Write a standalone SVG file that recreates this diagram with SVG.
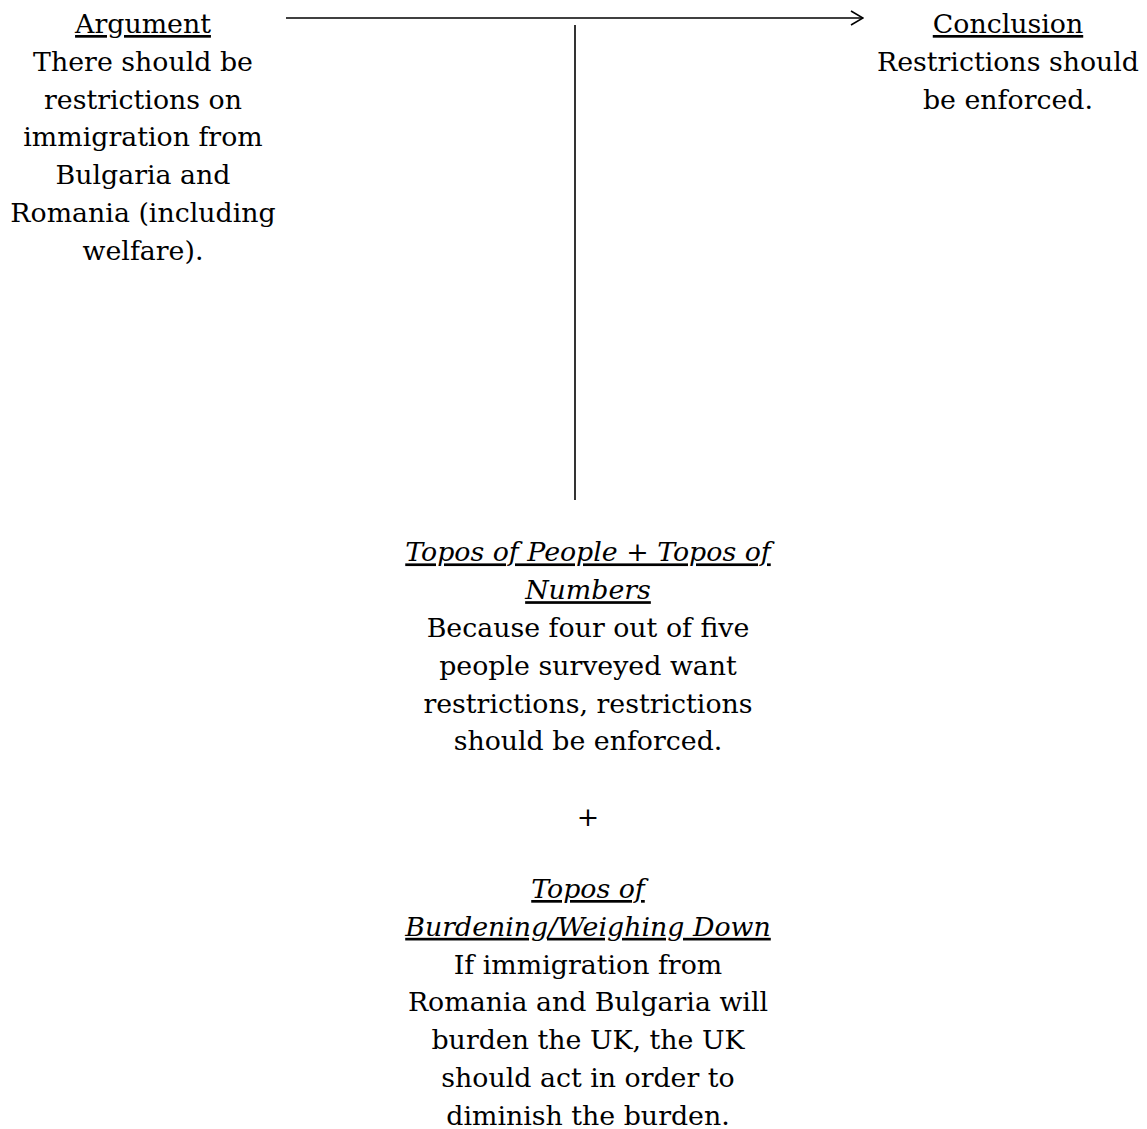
<svg xmlns="http://www.w3.org/2000/svg" width="1147" height="1129" viewBox="0 0 1147 1129">
  <style>
    .t { font-family: "DejaVu Serif", "Liberation Serif", serif; font-size: 26.8px; fill: #000; text-anchor: middle; }
    .h { text-decoration: underline; }
    .i { font-style: italic; }
    .c { stroke: #000; stroke-width: 1.6; fill: none; }
  </style>
  <defs>
    <marker id="chev" viewBox="0 0 14 16" refX="13" refY="8" markerWidth="14" markerHeight="16" markerUnits="userSpaceOnUse" orient="auto">
      <path d="M1 1 L13 8 L1 15" fill="none" stroke="#000" stroke-width="1.6"/>
    </marker>
  </defs>
  <rect width="1147" height="1129" fill="#fff"/>

  <g id="connectors">
    <line class="c" x1="286" y1="18" x2="863" y2="18" marker-end="url(#chev)"/>
    <line class="c" x1="575" y1="25" x2="575" y2="500"/>
  </g>

  <g id="argument" class="t">
    <text x="143" y="33" class="h">Argument</text>
    <text x="143" y="70.8">There should be</text>
    <text x="143" y="108.6">restrictions on</text>
    <text x="143" y="146.4">immigration from</text>
    <text x="143" y="184.2">Bulgaria and</text>
    <text x="143" y="222">Romania (including</text>
    <text x="143" y="259.8">welfare).</text>
  </g>

  <g id="conclusion" class="t">
    <text x="1008" y="33" class="h">Conclusion</text>
    <text x="1008" y="70.8">Restrictions should</text>
    <text x="1008" y="108.6">be enforced.</text>
  </g>

  <g id="warrant-people-numbers" class="t">
    <text x="588" y="561.4" class="h i">Topos of People + Topos of</text>
    <text x="588" y="599.2" class="h i">Numbers</text>
    <text x="588" y="637">Because four out of five</text>
    <text x="588" y="674.8">people surveyed want</text>
    <text x="588" y="712.6">restrictions, restrictions</text>
    <text x="588" y="750.4">should be enforced.</text>
  </g>

  <g id="plus" class="t">
    <text x="588" y="826">+</text>
  </g>

  <g id="warrant-burdening" class="t">
    <text x="588" y="898" class="h i">Topos of</text>
    <text x="588" y="935.8" class="h i">Burdening/Weighing Down</text>
    <text x="588" y="973.6">If immigration from</text>
    <text x="588" y="1011.4">Romania and Bulgaria will</text>
    <text x="588" y="1049.2">burden the UK, the UK</text>
    <text x="588" y="1087">should act in order to</text>
    <text x="588" y="1124.8">diminish the burden.</text>
  </g>
</svg>
